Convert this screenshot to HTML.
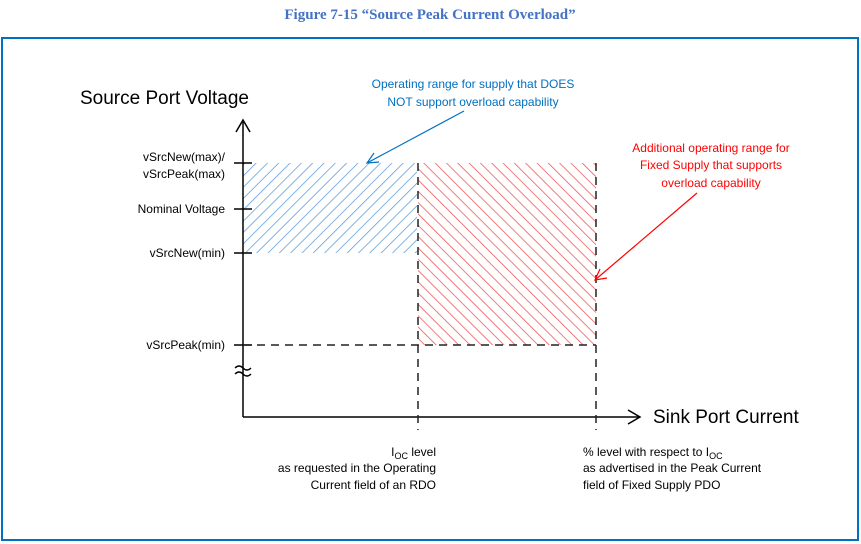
<!DOCTYPE html>
<html><head><meta charset="utf-8"><style>
html,body{margin:0;padding:0;background:#fff;}
svg{display:block;}
text{font-family:"Liberation Sans",sans-serif;}
</style></head><body>
<svg width="861" height="544" viewBox="0 0 861 544" xmlns="http://www.w3.org/2000/svg">
<defs>
<pattern id="pb" patternUnits="userSpaceOnUse" width="8" height="8" patternTransform="rotate(45)">
<line x1="0" y1="0" x2="0" y2="8" stroke="#5b9bd5" stroke-width="1.5"/>
</pattern>
<pattern id="pr" patternUnits="userSpaceOnUse" width="8" height="8" patternTransform="rotate(-45)">
<line x1="0" y1="0" x2="0" y2="8" stroke="#f05050" stroke-width="1.5"/>
</pattern>
</defs>
<text x="430" y="19" text-anchor="middle" font-weight="bold" font-size="15" fill="#4472c4" style="font-family:'Liberation Serif',serif">Figure 7-15 “Source Peak Current Overload”</text>
<rect x="2" y="38" width="856" height="502" fill="none" stroke="#0070c0" stroke-width="2"/>
<rect x="243" y="163" width="174" height="90" fill="url(#pb)"/>
<rect x="418" y="163" width="178" height="182" fill="url(#pr)"/>
<g stroke="#000" stroke-width="1.5" fill="none">
<line x1="243" y1="122" x2="243" y2="417"/>
<polyline points="236,132 243,120 250,132"/>
<line x1="243" y1="417" x2="639" y2="417"/>
<polyline points="628,410 640,417 628,424"/>
<line x1="234" y1="163" x2="252" y2="163"/>
<line x1="234" y1="209" x2="252" y2="209"/>
<line x1="234" y1="253" x2="252" y2="253"/>
<line x1="234" y1="345" x2="252" y2="345"/>
</g>
<g stroke="#222" stroke-width="1.5" fill="none" stroke-dasharray="8,6">
<line x1="418" y1="163" x2="418" y2="430"/>
<line x1="596" y1="163" x2="596" y2="430"/>
<line x1="243" y1="345" x2="596" y2="345"/>
</g>
<path d="M235,368 q4,-4 8,0 t8,0 M235,374 q4,-4 8,0 t8,0" stroke="#000" stroke-width="1.3" fill="none"/>
<g stroke="#0070c0" stroke-width="1.2" fill="none">
<line x1="464" y1="111" x2="367" y2="163"/>
<polyline points="374,153 367,163 379,162"/>
</g>
<g stroke="#ff0000" stroke-width="1.2" fill="none">
<line x1="697" y1="193" x2="595" y2="280"/>
<polyline points="600,269 595,280 607,278"/>
</g>
<text x="80" y="104" font-size="19" fill="#000">Source Port Voltage</text>
<text x="653" y="423" font-size="19" fill="#000">Sink Port Current</text>
<g font-size="12" fill="#000" text-anchor="end">
<text x="225" y="161">vSrcNew(max)/</text>
<text x="225" y="178">vSrcPeak(max)</text>
<text x="225" y="213">Nominal Voltage</text>
<text x="225" y="257">vSrcNew(min)</text>
<text x="225" y="349">vSrcPeak(min)</text>
<text x="436" y="456">I<tspan font-size="9" dy="3">OC</tspan><tspan dy="-3"> level</tspan></text>
<text x="436" y="472">as requested in the Operating</text>
<text x="436" y="489">Current field of an RDO</text>
</g>
<g font-size="12" fill="#000">
<text x="583" y="456">% level with respect to I<tspan font-size="9" dy="3">OC</tspan></text>
<text x="583" y="472">as advertised in the Peak Current</text>
<text x="583" y="489">field of Fixed Supply PDO</text>
</g>
<g font-size="12" fill="#0070c0" text-anchor="middle">
<text x="473" y="88">Operating range for supply that DOES</text>
<text x="473" y="106">NOT support overload capability</text>
</g>
<g font-size="12" fill="#ff0000" text-anchor="middle">
<text x="711" y="152">Additional operating range for</text>
<text x="711" y="169">Fixed Supply that supports</text>
<text x="711" y="187">overload capability</text>
</g>
</svg>
</body></html>
